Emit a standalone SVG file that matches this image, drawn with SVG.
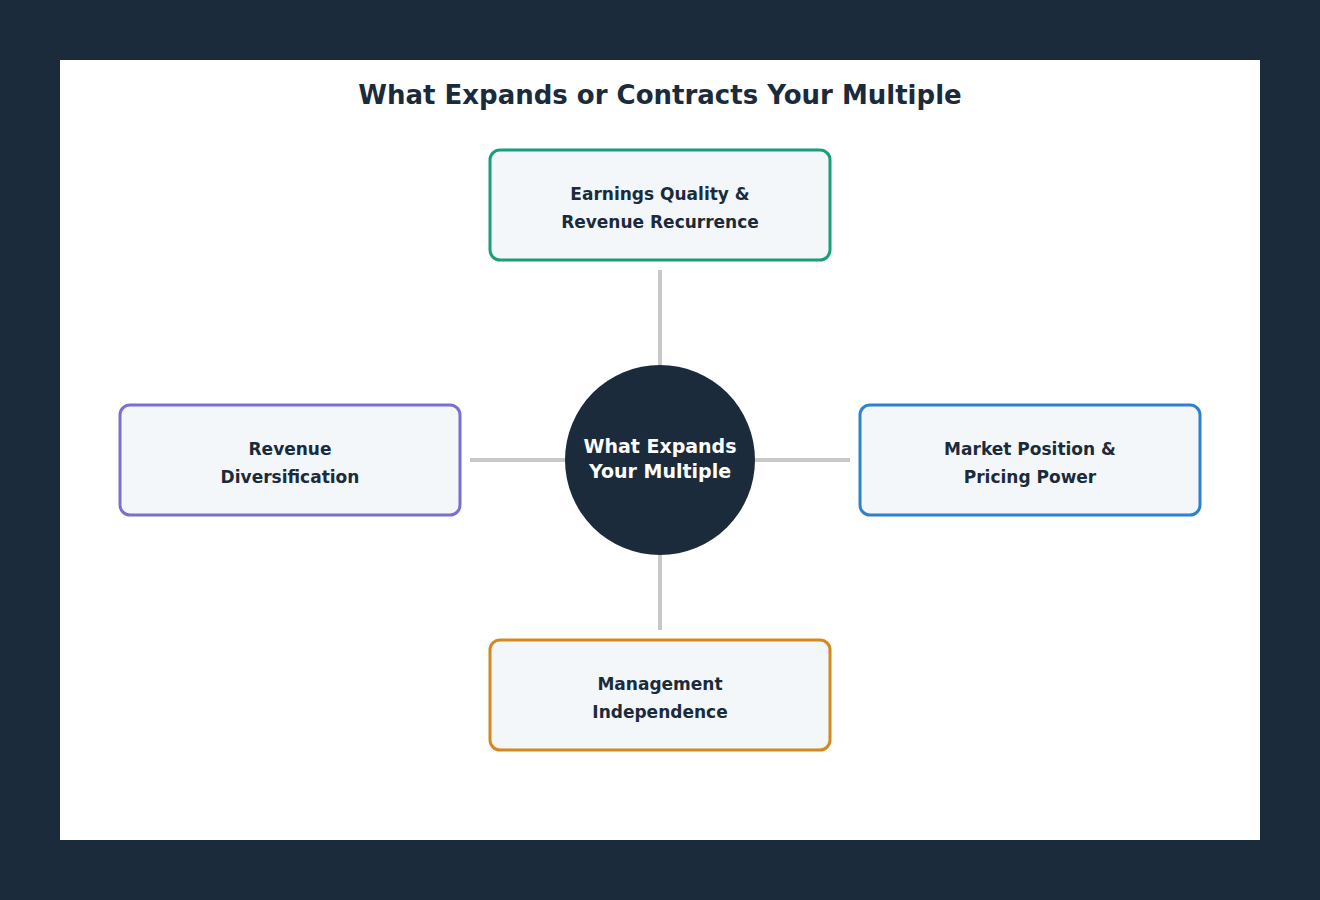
<svg xmlns="http://www.w3.org/2000/svg" width="1320" height="900" viewBox="0 0 1320 900">
<style>
.box{fill:#f3f7fa;stroke-width:3}
.t{font-family:"DejaVu Sans",sans-serif;font-weight:bold;font-size:17px;fill:#1b2b3b;text-anchor:middle}
.c{stroke:#c8c8c8;stroke-width:4}
</style>
<rect width="1320" height="900" fill="#1b2b3b"/>
<rect x="60" y="60" width="1200" height="780" fill="#fff"/>
<text x="660" y="104" class="t" style="font-size:26px">What Expands or Contracts Your Multiple</text>
<g id="connectors">
<line class="c" x1="660" y1="270" x2="660" y2="365"/>
<line class="c" x1="660" y1="555" x2="660" y2="630"/>
<line class="c" x1="470" y1="460" x2="565" y2="460"/>
<line class="c" x1="755" y1="460" x2="850" y2="460"/>
</g>
<g id="center"><circle cx="660" cy="460" r="95" fill="#1b2b3b"/>
<text x="660" y="453" class="t" style="fill:#fff;font-size:19px">What Expands</text>
<text x="660" y="478" class="t" style="fill:#fff;font-size:19px">Your Multiple</text></g>
<g id="top"><rect class="box" x="490" y="150" width="340" height="110" rx="10" stroke="#1a9e7a"/>
<text x="660" y="200" class="t">Earnings Quality &amp;</text><text x="660" y="228" class="t">Revenue Recurrence</text></g>
<g id="left"><rect class="box" x="120" y="405" width="340" height="110" rx="10" stroke="#7b6fcf"/>
<text x="290" y="455" class="t">Revenue</text><text x="290" y="483" class="t">Diversification</text></g>
<g id="right"><rect class="box" x="860" y="405" width="340" height="110" rx="10" stroke="#2f80d0"/>
<text x="1030" y="455" class="t">Market Position &amp;</text><text x="1030" y="483" class="t">Pricing Power</text></g>
<g id="bottom"><rect class="box" x="490" y="640" width="340" height="110" rx="10" stroke="#d4881f"/>
<text x="660" y="690" class="t">Management</text><text x="660" y="718" class="t">Independence</text></g>
</svg>
